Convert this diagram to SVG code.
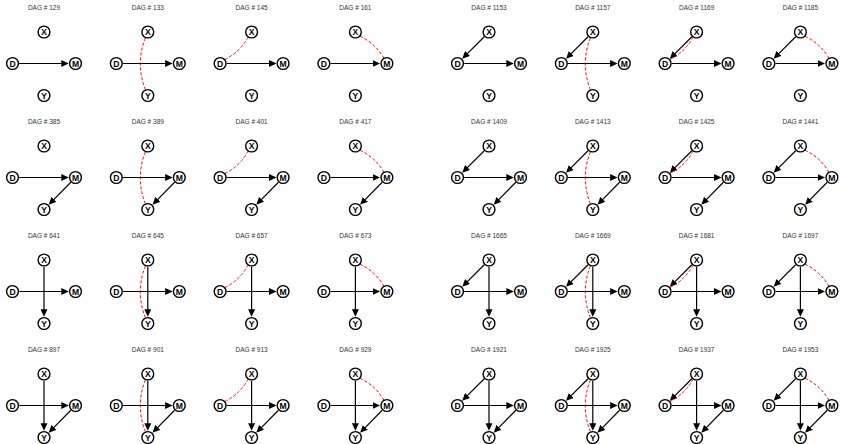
<svg xmlns="http://www.w3.org/2000/svg" width="842" height="444" viewBox="0 0 842 444">
<style>
.e{fill:none;stroke:#000;stroke-width:1.2;marker-end:url(#ah)}
.b{fill:none;stroke:#f00;stroke-width:1;stroke-dasharray:3 2}
.n circle{fill:#fff;stroke:#000;stroke-width:1.4}
.n text{font-family:"Liberation Sans",Arial,sans-serif;font-weight:bold;font-size:8.6px;text-anchor:middle;fill:#000}
.t{font-family:"Liberation Sans",Arial,sans-serif;font-size:6.5px;text-anchor:middle;fill:#333}
</style>
<defs>
<marker id="ah" markerUnits="userSpaceOnUse" markerWidth="7.5" markerHeight="7" viewBox="0 0 7.5 7" refX="4.5" refY="3.5" orient="auto"><path d="M0 0L7.5 3.5L0 7z" fill="#000"/></marker>
</defs>
<rect width="842" height="444" fill="#fff"/>
<g id="connectors">
<!-- row 1 -->
<g transform="translate(44,32)"><path class="e" d="M-24.8 31.5H21.8"/></g>
<g transform="translate(147.8,32)"><path class="e" d="M-24.8 31.5H21.8"/><path class="b" d="M-2.5 6Q-12.5 31.75 -2.5 57.5"/></g>
<g transform="translate(251.6,32)"><path class="e" d="M-24.8 31.5H21.8"/><path class="b" d="M-26.8 27.6Q-11.6 20 -3.6 5.2"/></g>
<g transform="translate(355.4,32)"><path class="e" d="M-24.8 31.5H21.8"/><path class="b" d="M4.6 4.2Q20.04 11.56 28.4 26"/></g>
<g transform="translate(489,32)"><path class="e" d="M-24.8 31.5H21.8"/><path class="e" d="M-4.74 4.74L-24.64 24.64"/></g>
<g transform="translate(592.8,32)"><path class="e" d="M-24.8 31.5H21.8"/><path class="e" d="M-4.74 4.74L-24.64 24.64"/><path class="b" d="M-2.5 6Q-12.5 31.75 -2.5 57.5"/></g>
<g transform="translate(696.6,32)"><path class="e" d="M-24.8 31.5H21.8"/><path class="e" d="M-4.74 4.74L-24.64 24.64"/><path class="b" d="M-26.8 27.6Q-11.6 20 -3.6 5.2"/></g>
<g transform="translate(800.4,32)"><path class="e" d="M-24.8 31.5H21.8"/><path class="e" d="M-4.74 4.74L-24.64 24.64"/><path class="b" d="M4.6 4.2Q20.04 11.56 28.4 26"/></g>
<!-- row 2 -->
<g transform="translate(44,146)"><path class="e" d="M-24.8 31.5H21.8"/><path class="e" d="M26.8 36.28L6.8 56.58"/></g>
<g transform="translate(147.8,146)"><path class="e" d="M-24.8 31.5H21.8"/><path class="e" d="M26.8 36.28L6.8 56.58"/><path class="b" d="M-2.5 6Q-12.5 31.75 -2.5 57.5"/></g>
<g transform="translate(251.6,146)"><path class="e" d="M-24.8 31.5H21.8"/><path class="e" d="M26.8 36.28L6.8 56.58"/><path class="b" d="M-26.8 27.6Q-11.6 20 -3.6 5.2"/></g>
<g transform="translate(355.4,146)"><path class="e" d="M-24.8 31.5H21.8"/><path class="e" d="M26.8 36.28L6.8 56.58"/><path class="b" d="M4.6 4.2Q20.04 11.56 28.4 26"/></g>
<g transform="translate(489,146)"><path class="e" d="M-24.8 31.5H21.8"/><path class="e" d="M-4.74 4.74L-24.64 24.64"/><path class="e" d="M26.8 36.28L6.8 56.58"/></g>
<g transform="translate(592.8,146)"><path class="e" d="M-24.8 31.5H21.8"/><path class="e" d="M-4.74 4.74L-24.64 24.64"/><path class="e" d="M26.8 36.28L6.8 56.58"/><path class="b" d="M-2.5 6Q-12.5 31.75 -2.5 57.5"/></g>
<g transform="translate(696.6,146)"><path class="e" d="M-24.8 31.5H21.8"/><path class="e" d="M-4.74 4.74L-24.64 24.64"/><path class="e" d="M26.8 36.28L6.8 56.58"/><path class="b" d="M-26.8 27.6Q-11.6 20 -3.6 5.2"/></g>
<g transform="translate(800.4,146)"><path class="e" d="M-24.8 31.5H21.8"/><path class="e" d="M-4.74 4.74L-24.64 24.64"/><path class="e" d="M26.8 36.28L6.8 56.58"/><path class="b" d="M4.6 4.2Q20.04 11.56 28.4 26"/></g>
<!-- row 3 -->
<g transform="translate(44,260)"><path class="e" d="M-24.8 31.5H21.8"/><path class="e" d="M0 6.7V53.8"/></g>
<g transform="translate(147.8,260)"><path class="e" d="M-24.8 31.5H21.8"/><path class="e" d="M0 6.7V53.8"/><path class="b" d="M-2.5 6Q-12.5 31.75 -2.5 57.5"/></g>
<g transform="translate(251.6,260)"><path class="e" d="M-24.8 31.5H21.8"/><path class="e" d="M0 6.7V53.8"/><path class="b" d="M-26.8 27.6Q-11.6 20 -3.6 5.2"/></g>
<g transform="translate(355.4,260)"><path class="e" d="M-24.8 31.5H21.8"/><path class="e" d="M0 6.7V53.8"/><path class="b" d="M4.6 4.2Q20.04 11.56 28.4 26"/></g>
<g transform="translate(489,260)"><path class="e" d="M-24.8 31.5H21.8"/><path class="e" d="M-4.74 4.74L-24.64 24.64"/><path class="e" d="M0 6.7V53.8"/></g>
<g transform="translate(592.8,260)"><path class="e" d="M-24.8 31.5H21.8"/><path class="e" d="M-4.74 4.74L-24.64 24.64"/><path class="e" d="M0 6.7V53.8"/><path class="b" d="M-2.5 6Q-12.5 31.75 -2.5 57.5"/></g>
<g transform="translate(696.6,260)"><path class="e" d="M-24.8 31.5H21.8"/><path class="e" d="M-4.74 4.74L-24.64 24.64"/><path class="e" d="M0 6.7V53.8"/><path class="b" d="M-26.8 27.6Q-11.6 20 -3.6 5.2"/></g>
<g transform="translate(800.4,260)"><path class="e" d="M-24.8 31.5H21.8"/><path class="e" d="M-4.74 4.74L-24.64 24.64"/><path class="e" d="M0 6.7V53.8"/><path class="b" d="M4.6 4.2Q20.04 11.56 28.4 26"/></g>
<!-- row 4 -->
<g transform="translate(44,374)"><path class="e" d="M-24.8 31.5H21.8"/><path class="e" d="M0 6.7V53.8"/><path class="e" d="M26.8 36.28L6.8 56.58"/></g>
<g transform="translate(147.8,374)"><path class="e" d="M-24.8 31.5H21.8"/><path class="e" d="M0 6.7V53.8"/><path class="e" d="M26.8 36.28L6.8 56.58"/><path class="b" d="M-2.5 6Q-12.5 31.75 -2.5 57.5"/></g>
<g transform="translate(251.6,374)"><path class="e" d="M-24.8 31.5H21.8"/><path class="e" d="M0 6.7V53.8"/><path class="e" d="M26.8 36.28L6.8 56.58"/><path class="b" d="M-26.8 27.6Q-11.6 20 -3.6 5.2"/></g>
<g transform="translate(355.4,374)"><path class="e" d="M-24.8 31.5H21.8"/><path class="e" d="M0 6.7V53.8"/><path class="e" d="M26.8 36.28L6.8 56.58"/><path class="b" d="M4.6 4.2Q20.04 11.56 28.4 26"/></g>
<g transform="translate(489,374)"><path class="e" d="M-24.8 31.5H21.8"/><path class="e" d="M-4.74 4.74L-24.64 24.64"/><path class="e" d="M0 6.7V53.8"/><path class="e" d="M26.8 36.28L6.8 56.58"/></g>
<g transform="translate(592.8,374)"><path class="e" d="M-24.8 31.5H21.8"/><path class="e" d="M-4.74 4.74L-24.64 24.64"/><path class="e" d="M0 6.7V53.8"/><path class="e" d="M26.8 36.28L6.8 56.58"/><path class="b" d="M-2.5 6Q-12.5 31.75 -2.5 57.5"/></g>
<g transform="translate(696.6,374)"><path class="e" d="M-24.8 31.5H21.8"/><path class="e" d="M-4.74 4.74L-24.64 24.64"/><path class="e" d="M0 6.7V53.8"/><path class="e" d="M26.8 36.28L6.8 56.58"/><path class="b" d="M-26.8 27.6Q-11.6 20 -3.6 5.2"/></g>
<g transform="translate(800.4,374)"><path class="e" d="M-24.8 31.5H21.8"/><path class="e" d="M-4.74 4.74L-24.64 24.64"/><path class="e" d="M0 6.7V53.8"/><path class="e" d="M26.8 36.28L6.8 56.58"/><path class="b" d="M4.6 4.2Q20.04 11.56 28.4 26"/></g>
</g>
<!-- panels: title + nodes -->
<g id="dag129" transform="translate(44,32)"><text class="t" y="-22">DAG # 129</text><g id="n129X" class="n"><circle r="5.9"/><text y="3.1">X</text></g><g id="n129D" class="n" transform="translate(-31.5,31.5)"><circle r="5.9"/><text y="3.1">D</text></g><g id="n129M" class="n" transform="translate(31.5,31.5)"><circle r="5.9"/><text y="3.1">M</text></g><g id="n129Y" class="n" transform="translate(0,63.5)"><circle r="5.9"/><text y="3.1">Y</text></g></g>
<g id="dag133" transform="translate(147.8,32)"><text class="t" y="-22">DAG # 133</text><g id="n133X" class="n"><circle r="5.9"/><text y="3.1">X</text></g><g id="n133D" class="n" transform="translate(-31.5,31.5)"><circle r="5.9"/><text y="3.1">D</text></g><g id="n133M" class="n" transform="translate(31.5,31.5)"><circle r="5.9"/><text y="3.1">M</text></g><g id="n133Y" class="n" transform="translate(0,63.5)"><circle r="5.9"/><text y="3.1">Y</text></g></g>
<g id="dag145" transform="translate(251.6,32)"><text class="t" y="-22">DAG # 145</text><g id="n145X" class="n"><circle r="5.9"/><text y="3.1">X</text></g><g id="n145D" class="n" transform="translate(-31.5,31.5)"><circle r="5.9"/><text y="3.1">D</text></g><g id="n145M" class="n" transform="translate(31.5,31.5)"><circle r="5.9"/><text y="3.1">M</text></g><g id="n145Y" class="n" transform="translate(0,63.5)"><circle r="5.9"/><text y="3.1">Y</text></g></g>
<g id="dag161" transform="translate(355.4,32)"><text class="t" y="-22">DAG # 161</text><g id="n161X" class="n"><circle r="5.9"/><text y="3.1">X</text></g><g id="n161D" class="n" transform="translate(-31.5,31.5)"><circle r="5.9"/><text y="3.1">D</text></g><g id="n161M" class="n" transform="translate(31.5,31.5)"><circle r="5.9"/><text y="3.1">M</text></g><g id="n161Y" class="n" transform="translate(0,63.5)"><circle r="5.9"/><text y="3.1">Y</text></g></g>
<g id="dag1153" transform="translate(489,32)"><text class="t" y="-22">DAG # 1153</text><g id="n1153X" class="n"><circle r="5.9"/><text y="3.1">X</text></g><g id="n1153D" class="n" transform="translate(-31.5,31.5)"><circle r="5.9"/><text y="3.1">D</text></g><g id="n1153M" class="n" transform="translate(31.5,31.5)"><circle r="5.9"/><text y="3.1">M</text></g><g id="n1153Y" class="n" transform="translate(0,63.5)"><circle r="5.9"/><text y="3.1">Y</text></g></g>
<g id="dag1157" transform="translate(592.8,32)"><text class="t" y="-22">DAG # 1157</text><g id="n1157X" class="n"><circle r="5.9"/><text y="3.1">X</text></g><g id="n1157D" class="n" transform="translate(-31.5,31.5)"><circle r="5.9"/><text y="3.1">D</text></g><g id="n1157M" class="n" transform="translate(31.5,31.5)"><circle r="5.9"/><text y="3.1">M</text></g><g id="n1157Y" class="n" transform="translate(0,63.5)"><circle r="5.9"/><text y="3.1">Y</text></g></g>
<g id="dag1169" transform="translate(696.6,32)"><text class="t" y="-22">DAG # 1169</text><g id="n1169X" class="n"><circle r="5.9"/><text y="3.1">X</text></g><g id="n1169D" class="n" transform="translate(-31.5,31.5)"><circle r="5.9"/><text y="3.1">D</text></g><g id="n1169M" class="n" transform="translate(31.5,31.5)"><circle r="5.9"/><text y="3.1">M</text></g><g id="n1169Y" class="n" transform="translate(0,63.5)"><circle r="5.9"/><text y="3.1">Y</text></g></g>
<g id="dag1185" transform="translate(800.4,32)"><text class="t" y="-22">DAG # 1185</text><g id="n1185X" class="n"><circle r="5.9"/><text y="3.1">X</text></g><g id="n1185D" class="n" transform="translate(-31.5,31.5)"><circle r="5.9"/><text y="3.1">D</text></g><g id="n1185M" class="n" transform="translate(31.5,31.5)"><circle r="5.9"/><text y="3.1">M</text></g><g id="n1185Y" class="n" transform="translate(0,63.5)"><circle r="5.9"/><text y="3.1">Y</text></g></g>
<g id="dag385" transform="translate(44,146)"><text class="t" y="-22">DAG # 385</text><g id="n385X" class="n"><circle r="5.9"/><text y="3.1">X</text></g><g id="n385D" class="n" transform="translate(-31.5,31.5)"><circle r="5.9"/><text y="3.1">D</text></g><g id="n385M" class="n" transform="translate(31.5,31.5)"><circle r="5.9"/><text y="3.1">M</text></g><g id="n385Y" class="n" transform="translate(0,63.5)"><circle r="5.9"/><text y="3.1">Y</text></g></g>
<g id="dag389" transform="translate(147.8,146)"><text class="t" y="-22">DAG # 389</text><g id="n389X" class="n"><circle r="5.9"/><text y="3.1">X</text></g><g id="n389D" class="n" transform="translate(-31.5,31.5)"><circle r="5.9"/><text y="3.1">D</text></g><g id="n389M" class="n" transform="translate(31.5,31.5)"><circle r="5.9"/><text y="3.1">M</text></g><g id="n389Y" class="n" transform="translate(0,63.5)"><circle r="5.9"/><text y="3.1">Y</text></g></g>
<g id="dag401" transform="translate(251.6,146)"><text class="t" y="-22">DAG # 401</text><g id="n401X" class="n"><circle r="5.9"/><text y="3.1">X</text></g><g id="n401D" class="n" transform="translate(-31.5,31.5)"><circle r="5.9"/><text y="3.1">D</text></g><g id="n401M" class="n" transform="translate(31.5,31.5)"><circle r="5.9"/><text y="3.1">M</text></g><g id="n401Y" class="n" transform="translate(0,63.5)"><circle r="5.9"/><text y="3.1">Y</text></g></g>
<g id="dag417" transform="translate(355.4,146)"><text class="t" y="-22">DAG # 417</text><g id="n417X" class="n"><circle r="5.9"/><text y="3.1">X</text></g><g id="n417D" class="n" transform="translate(-31.5,31.5)"><circle r="5.9"/><text y="3.1">D</text></g><g id="n417M" class="n" transform="translate(31.5,31.5)"><circle r="5.9"/><text y="3.1">M</text></g><g id="n417Y" class="n" transform="translate(0,63.5)"><circle r="5.9"/><text y="3.1">Y</text></g></g>
<g id="dag1409" transform="translate(489,146)"><text class="t" y="-22">DAG # 1409</text><g id="n1409X" class="n"><circle r="5.9"/><text y="3.1">X</text></g><g id="n1409D" class="n" transform="translate(-31.5,31.5)"><circle r="5.9"/><text y="3.1">D</text></g><g id="n1409M" class="n" transform="translate(31.5,31.5)"><circle r="5.9"/><text y="3.1">M</text></g><g id="n1409Y" class="n" transform="translate(0,63.5)"><circle r="5.9"/><text y="3.1">Y</text></g></g>
<g id="dag1413" transform="translate(592.8,146)"><text class="t" y="-22">DAG # 1413</text><g id="n1413X" class="n"><circle r="5.9"/><text y="3.1">X</text></g><g id="n1413D" class="n" transform="translate(-31.5,31.5)"><circle r="5.9"/><text y="3.1">D</text></g><g id="n1413M" class="n" transform="translate(31.5,31.5)"><circle r="5.9"/><text y="3.1">M</text></g><g id="n1413Y" class="n" transform="translate(0,63.5)"><circle r="5.9"/><text y="3.1">Y</text></g></g>
<g id="dag1425" transform="translate(696.6,146)"><text class="t" y="-22">DAG # 1425</text><g id="n1425X" class="n"><circle r="5.9"/><text y="3.1">X</text></g><g id="n1425D" class="n" transform="translate(-31.5,31.5)"><circle r="5.9"/><text y="3.1">D</text></g><g id="n1425M" class="n" transform="translate(31.5,31.5)"><circle r="5.9"/><text y="3.1">M</text></g><g id="n1425Y" class="n" transform="translate(0,63.5)"><circle r="5.9"/><text y="3.1">Y</text></g></g>
<g id="dag1441" transform="translate(800.4,146)"><text class="t" y="-22">DAG # 1441</text><g id="n1441X" class="n"><circle r="5.9"/><text y="3.1">X</text></g><g id="n1441D" class="n" transform="translate(-31.5,31.5)"><circle r="5.9"/><text y="3.1">D</text></g><g id="n1441M" class="n" transform="translate(31.5,31.5)"><circle r="5.9"/><text y="3.1">M</text></g><g id="n1441Y" class="n" transform="translate(0,63.5)"><circle r="5.9"/><text y="3.1">Y</text></g></g>
<g id="dag641" transform="translate(44,260)"><text class="t" y="-22">DAG # 641</text><g id="n641X" class="n"><circle r="5.9"/><text y="3.1">X</text></g><g id="n641D" class="n" transform="translate(-31.5,31.5)"><circle r="5.9"/><text y="3.1">D</text></g><g id="n641M" class="n" transform="translate(31.5,31.5)"><circle r="5.9"/><text y="3.1">M</text></g><g id="n641Y" class="n" transform="translate(0,63.5)"><circle r="5.9"/><text y="3.1">Y</text></g></g>
<g id="dag645" transform="translate(147.8,260)"><text class="t" y="-22">DAG # 645</text><g id="n645X" class="n"><circle r="5.9"/><text y="3.1">X</text></g><g id="n645D" class="n" transform="translate(-31.5,31.5)"><circle r="5.9"/><text y="3.1">D</text></g><g id="n645M" class="n" transform="translate(31.5,31.5)"><circle r="5.9"/><text y="3.1">M</text></g><g id="n645Y" class="n" transform="translate(0,63.5)"><circle r="5.9"/><text y="3.1">Y</text></g></g>
<g id="dag657" transform="translate(251.6,260)"><text class="t" y="-22">DAG # 657</text><g id="n657X" class="n"><circle r="5.9"/><text y="3.1">X</text></g><g id="n657D" class="n" transform="translate(-31.5,31.5)"><circle r="5.9"/><text y="3.1">D</text></g><g id="n657M" class="n" transform="translate(31.5,31.5)"><circle r="5.9"/><text y="3.1">M</text></g><g id="n657Y" class="n" transform="translate(0,63.5)"><circle r="5.9"/><text y="3.1">Y</text></g></g>
<g id="dag673" transform="translate(355.4,260)"><text class="t" y="-22">DAG # 673</text><g id="n673X" class="n"><circle r="5.9"/><text y="3.1">X</text></g><g id="n673D" class="n" transform="translate(-31.5,31.5)"><circle r="5.9"/><text y="3.1">D</text></g><g id="n673M" class="n" transform="translate(31.5,31.5)"><circle r="5.9"/><text y="3.1">M</text></g><g id="n673Y" class="n" transform="translate(0,63.5)"><circle r="5.9"/><text y="3.1">Y</text></g></g>
<g id="dag1665" transform="translate(489,260)"><text class="t" y="-22">DAG # 1665</text><g id="n1665X" class="n"><circle r="5.9"/><text y="3.1">X</text></g><g id="n1665D" class="n" transform="translate(-31.5,31.5)"><circle r="5.9"/><text y="3.1">D</text></g><g id="n1665M" class="n" transform="translate(31.5,31.5)"><circle r="5.9"/><text y="3.1">M</text></g><g id="n1665Y" class="n" transform="translate(0,63.5)"><circle r="5.9"/><text y="3.1">Y</text></g></g>
<g id="dag1669" transform="translate(592.8,260)"><text class="t" y="-22">DAG # 1669</text><g id="n1669X" class="n"><circle r="5.9"/><text y="3.1">X</text></g><g id="n1669D" class="n" transform="translate(-31.5,31.5)"><circle r="5.9"/><text y="3.1">D</text></g><g id="n1669M" class="n" transform="translate(31.5,31.5)"><circle r="5.9"/><text y="3.1">M</text></g><g id="n1669Y" class="n" transform="translate(0,63.5)"><circle r="5.9"/><text y="3.1">Y</text></g></g>
<g id="dag1681" transform="translate(696.6,260)"><text class="t" y="-22">DAG # 1681</text><g id="n1681X" class="n"><circle r="5.9"/><text y="3.1">X</text></g><g id="n1681D" class="n" transform="translate(-31.5,31.5)"><circle r="5.9"/><text y="3.1">D</text></g><g id="n1681M" class="n" transform="translate(31.5,31.5)"><circle r="5.9"/><text y="3.1">M</text></g><g id="n1681Y" class="n" transform="translate(0,63.5)"><circle r="5.9"/><text y="3.1">Y</text></g></g>
<g id="dag1697" transform="translate(800.4,260)"><text class="t" y="-22">DAG # 1697</text><g id="n1697X" class="n"><circle r="5.9"/><text y="3.1">X</text></g><g id="n1697D" class="n" transform="translate(-31.5,31.5)"><circle r="5.9"/><text y="3.1">D</text></g><g id="n1697M" class="n" transform="translate(31.5,31.5)"><circle r="5.9"/><text y="3.1">M</text></g><g id="n1697Y" class="n" transform="translate(0,63.5)"><circle r="5.9"/><text y="3.1">Y</text></g></g>
<g id="dag897" transform="translate(44,374)"><text class="t" y="-22">DAG # 897</text><g id="n897X" class="n"><circle r="5.9"/><text y="3.1">X</text></g><g id="n897D" class="n" transform="translate(-31.5,31.5)"><circle r="5.9"/><text y="3.1">D</text></g><g id="n897M" class="n" transform="translate(31.5,31.5)"><circle r="5.9"/><text y="3.1">M</text></g><g id="n897Y" class="n" transform="translate(0,63.5)"><circle r="5.9"/><text y="3.1">Y</text></g></g>
<g id="dag901" transform="translate(147.8,374)"><text class="t" y="-22">DAG # 901</text><g id="n901X" class="n"><circle r="5.9"/><text y="3.1">X</text></g><g id="n901D" class="n" transform="translate(-31.5,31.5)"><circle r="5.9"/><text y="3.1">D</text></g><g id="n901M" class="n" transform="translate(31.5,31.5)"><circle r="5.9"/><text y="3.1">M</text></g><g id="n901Y" class="n" transform="translate(0,63.5)"><circle r="5.9"/><text y="3.1">Y</text></g></g>
<g id="dag913" transform="translate(251.6,374)"><text class="t" y="-22">DAG # 913</text><g id="n913X" class="n"><circle r="5.9"/><text y="3.1">X</text></g><g id="n913D" class="n" transform="translate(-31.5,31.5)"><circle r="5.9"/><text y="3.1">D</text></g><g id="n913M" class="n" transform="translate(31.5,31.5)"><circle r="5.9"/><text y="3.1">M</text></g><g id="n913Y" class="n" transform="translate(0,63.5)"><circle r="5.9"/><text y="3.1">Y</text></g></g>
<g id="dag929" transform="translate(355.4,374)"><text class="t" y="-22">DAG # 929</text><g id="n929X" class="n"><circle r="5.9"/><text y="3.1">X</text></g><g id="n929D" class="n" transform="translate(-31.5,31.5)"><circle r="5.9"/><text y="3.1">D</text></g><g id="n929M" class="n" transform="translate(31.5,31.5)"><circle r="5.9"/><text y="3.1">M</text></g><g id="n929Y" class="n" transform="translate(0,63.5)"><circle r="5.9"/><text y="3.1">Y</text></g></g>
<g id="dag1921" transform="translate(489,374)"><text class="t" y="-22">DAG # 1921</text><g id="n1921X" class="n"><circle r="5.9"/><text y="3.1">X</text></g><g id="n1921D" class="n" transform="translate(-31.5,31.5)"><circle r="5.9"/><text y="3.1">D</text></g><g id="n1921M" class="n" transform="translate(31.5,31.5)"><circle r="5.9"/><text y="3.1">M</text></g><g id="n1921Y" class="n" transform="translate(0,63.5)"><circle r="5.9"/><text y="3.1">Y</text></g></g>
<g id="dag1925" transform="translate(592.8,374)"><text class="t" y="-22">DAG # 1925</text><g id="n1925X" class="n"><circle r="5.9"/><text y="3.1">X</text></g><g id="n1925D" class="n" transform="translate(-31.5,31.5)"><circle r="5.9"/><text y="3.1">D</text></g><g id="n1925M" class="n" transform="translate(31.5,31.5)"><circle r="5.9"/><text y="3.1">M</text></g><g id="n1925Y" class="n" transform="translate(0,63.5)"><circle r="5.9"/><text y="3.1">Y</text></g></g>
<g id="dag1937" transform="translate(696.6,374)"><text class="t" y="-22">DAG # 1937</text><g id="n1937X" class="n"><circle r="5.9"/><text y="3.1">X</text></g><g id="n1937D" class="n" transform="translate(-31.5,31.5)"><circle r="5.9"/><text y="3.1">D</text></g><g id="n1937M" class="n" transform="translate(31.5,31.5)"><circle r="5.9"/><text y="3.1">M</text></g><g id="n1937Y" class="n" transform="translate(0,63.5)"><circle r="5.9"/><text y="3.1">Y</text></g></g>
<g id="dag1953" transform="translate(800.4,374)"><text class="t" y="-22">DAG # 1953</text><g id="n1953X" class="n"><circle r="5.9"/><text y="3.1">X</text></g><g id="n1953D" class="n" transform="translate(-31.5,31.5)"><circle r="5.9"/><text y="3.1">D</text></g><g id="n1953M" class="n" transform="translate(31.5,31.5)"><circle r="5.9"/><text y="3.1">M</text></g><g id="n1953Y" class="n" transform="translate(0,63.5)"><circle r="5.9"/><text y="3.1">Y</text></g></g>
</svg>
